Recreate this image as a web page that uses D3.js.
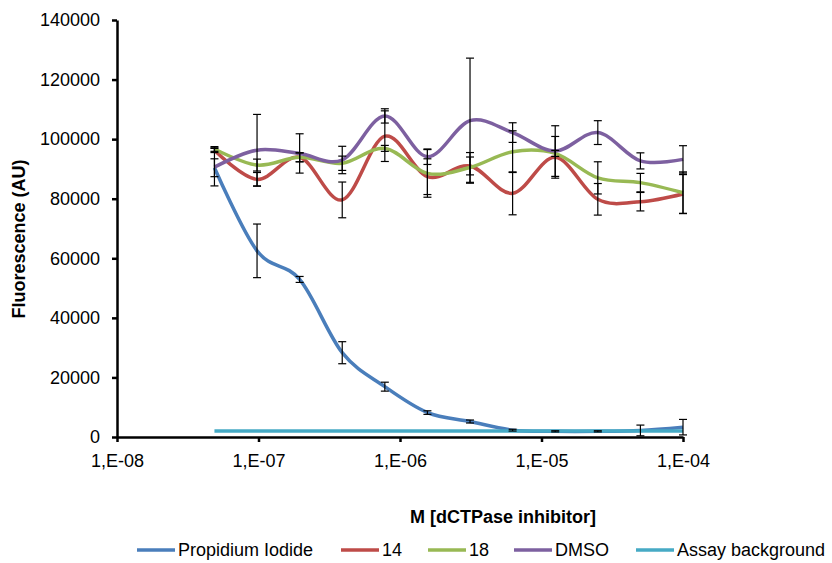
<!DOCTYPE html>
<html>
<head>
<meta charset="utf-8">
<script src="https://cdn.jsdelivr.net/npm/d3@7"></script>
<style>
  body { margin: 0; background: #fff; }
  text { font-family: "Liberation Sans", Arial, sans-serif; }
</style>
</head>
<body>
<div id="chart"></div>
<script>
// concentrations (M), 2-fold dilution series
var conc = [4.883e-8, 9.766e-8, 1.953e-7, 3.906e-7, 7.813e-7, 1.5625e-6,
            3.125e-6, 6.25e-6, 1.25e-5, 2.5e-5, 5e-5, 1e-4];

var piVals   = [90400, 62500, 52900, 28300, 16900, 8200, 5200, 2300, 1900, 1900, 2200, 3300];
var piErr    = [3000, 9000, 1000, 3700, 1500, 600, 500, 300, 200, 200, 1800, 2600];
var c14Vals  = [96300, 86500, 93900, 79600, 101000, 87400, 91000, 81800, 93900, 79800, 79000, 81600];
var c14Err   = [800, 2300, 1500, 6000, 8500, 6000, 3000, 7200, 7000, 5300, 3100, 6500];
var c18Vals  = [96700, 91300, 93900, 91900, 96900, 88500, 90500, 95800, 95200, 87000, 85400, 82000];
var c18Err   = [800, 2000, 1500, 2400, 1000, 8000, 5000, 7000, 1000, 5400, 3100, 7000];
var dmsoVals = [90600, 96300, 95200, 93000, 107800, 94100, 106200, 102200, 96000, 102200, 92700, 93200];
var dmsoErr  = [6300, 12000, 6600, 4600, 2400, 2600, 21000, 3300, 8500, 4000, 2700, 4600];
var bgVals   = [2000, 2000, 2000, 2000, 2000, 2000, 2000, 2000, 2000, 2000, 2000, 2000];

var seriesNames = ["Propidium Iodide", "14", "18", "DMSO", "Assay background"];
var yTicks = [0, 20000, 40000, 60000, 80000, 100000, 120000, 140000];
var xTicks = [1e-8, 1e-7, 1e-6, 1e-5, 1e-4];

var colors = ["#4a7ebb", "#be4b48", "#98b954", "#7d60a0", "#46aac5"];

var series = [
  {name: seriesNames[0], vals: piVals, err: piErr, color: colors[0]},
  {name: seriesNames[1], vals: c14Vals, err: c14Err, color: colors[1]},
  {name: seriesNames[2], vals: c18Vals, err: c18Err, color: colors[2]},
  {name: seriesNames[3], vals: dmsoVals, err: dmsoErr, color: colors[3]},
  {name: seriesNames[4], vals: bgVals, err: null, color: colors[4]}
];

var W = 832, H = 563;
var plotLeft = 117, plotRight = 683, plotTop = 20, plotBottom = 437;

var svg = d3.select("#chart").append("svg")
  .attr("width", W).attr("height", H);

var x = d3.scaleLog().domain([1e-8, 1e-4]).range([plotLeft, plotRight]);
var y = d3.scaleLinear().domain([0, 140000]).range([plotBottom, plotTop]);

var line = d3.line()
  .x(function(d) { return x(d[0]); })
  .y(function(d) { return y(d[1]); })
  .curve(d3.curveCardinal.tension(0));

// lines
series.forEach(function(s) {
  var pts = conc.map(function(c, i) { return [c, s.vals[i]]; });
  svg.append("path")
    .datum(pts)
    .attr("d", line)
    .attr("fill", "none")
    .attr("stroke", s.color)
    .attr("stroke-width", 3.5)
    .attr("stroke-linejoin", "round");
});

// error bars
var capW = 4;
series.forEach(function(s) {
  if (!s.err) return;
  var g = svg.append("g").attr("stroke", "#000").attr("stroke-width", 1.2);
  conc.forEach(function(c, i) {
    var cx = x(c), hi = y(s.vals[i] + s.err[i]), lo = y(s.vals[i] - s.err[i]);
    g.append("line").attr("x1", cx).attr("x2", cx).attr("y1", hi).attr("y2", lo);
    g.append("line").attr("x1", cx - capW).attr("x2", cx + capW).attr("y1", hi).attr("y2", hi);
    g.append("line").attr("x1", cx - capW).attr("x2", cx + capW).attr("y1", lo).attr("y2", lo);
  });
});

// axes
var yAxis = svg.append("g")
  .attr("transform", "translate(" + plotLeft + ",0)")
  .call(d3.axisLeft(y).tickValues(yTicks).tickSize(5).tickSizeOuter(0).tickPadding(12)
    .tickFormat(d3.format("d")));

var xAxis = svg.append("g")
  .attr("transform", "translate(0," + plotBottom + ")")
  .call(d3.axisBottom(x).tickValues(xTicks).tickSize(5).tickSizeOuter(0).tickPadding(12)
    .tickFormat(function(d) {
      return "1,E-" + String(Math.round(-Math.log10(d))).padStart(2, "0");
    }));

[xAxis, yAxis].forEach(function(a) {
  a.select(".domain").attr("stroke", "#000").attr("stroke-width", 2.5);
  a.selectAll(".tick line").attr("stroke", "#000").attr("stroke-width", 2.5);
  a.selectAll(".tick text")
    .attr("fill", "#000")
    .style("font-size", "18px")
    .style("font-family", "'Liberation Sans', Arial, sans-serif");
});

// axis titles
svg.append("text")
  .attr("x", 503).attr("y", 523)
  .attr("text-anchor", "middle")
  .style("font-size", "18px").style("font-weight", "bold")
  .text("M [dCTPase inhibitor]");

svg.append("text")
  .attr("transform", "translate(25,239) rotate(-90)")
  .attr("text-anchor", "middle")
  .style("font-size", "18px").style("font-weight", "bold")
  .text("Fluorescence (AU)");

// legend
var legX = [137, 341, 428, 514, 636];
var leg = svg.append("g");
series.forEach(function(s, i) {
  leg.append("line")
    .attr("x1", legX[i]).attr("x2", legX[i] + 38)
    .attr("y1", 550).attr("y2", 550)
    .attr("stroke", s.color).attr("stroke-width", 3.5);
  leg.append("text")
    .attr("x", legX[i] + 41).attr("y", 556)
    .style("font-size", "18px")
    .text(s.name);
});
</script>
</body>
</html>
